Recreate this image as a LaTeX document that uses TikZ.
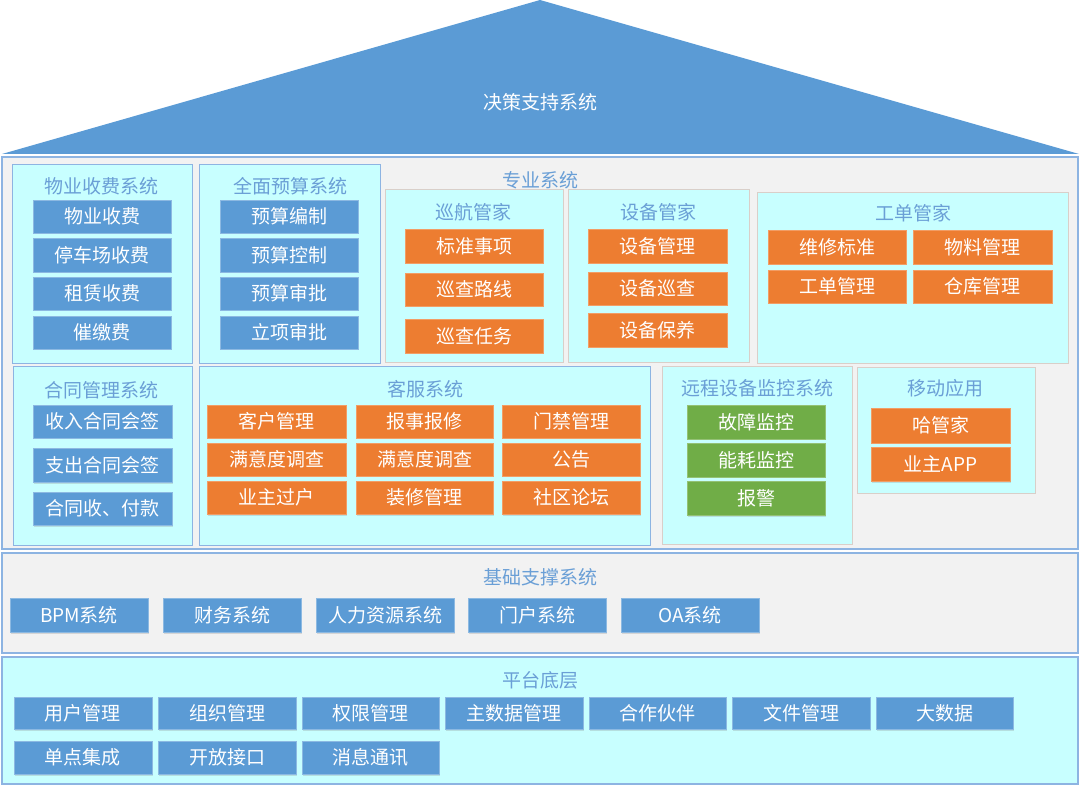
\documentclass[tikz,border=0pt]{standalone}
\usepackage{fontspec}
\setmainfont{Noto Sans CJK SC}
\usetikzlibrary{shadows}
\definecolor{tblue}{HTML}{5B9BD5}
\definecolor{torange}{HTML}{ED7D31}
\definecolor{tgreen}{HTML}{70AD47}
\definecolor{tcyan}{HTML}{C8FFFF}
\definecolor{tgrey}{HTML}{F2F2F2}
\definecolor{tbord}{HTML}{8DB4E2}
\definecolor{tbeige}{HTML}{D9CFC9}
\definecolor{ttitle}{HTML}{6A9FD6}
\newcommand\bx[7]{%
  \pgfmathsetmacro\bxcx{(#3+#5)/2}%
  \pgfmathsetmacro\bxcy{(#4+#6)/2}%
  \pgfmathsetmacro\bxw{#5-#3}%
  \pgfmathsetmacro\bxh{#6-#4}%
  \node[#1, minimum width=\bxw pt, minimum height=\bxh pt] (#2) at (\bxcx,\bxcy) {#7};}
\tikzset{
  base/.style={inner sep=0pt, outer sep=0pt, font=\fontsize{19}{21}\selectfont},
  item/.style={base, text=white, drop shadow={opacity=0.25, shadow xshift=1.2pt, shadow yshift=-1.5pt}},
  bluebox/.style={item, fill=tblue, draw=tblue!70!white, line width=0.6pt},
  orangebox/.style={item, fill=torange, draw=torange!75!white, line width=0.6pt},
  greenbox/.style={item, fill=tgreen, draw=tgreen!75!white, line width=0.6pt},
  panel/.style={base, fill=tcyan, draw=tbord, line width=1pt},
  bpanel/.style={base, fill=tcyan, draw=tbeige, line width=1pt},
  layer/.style={base, draw=tbord, line width=1.6pt},
  ttl/.style={base, text=ttitle},
}
\begin{document}
\begin{tikzpicture}[x=1pt, y=-1pt]
\useasboundingbox (0,0) rectangle (1080,786);
% roof
\fill[tblue] (2,154) -- (540,0) -- (1079,154) -- cycle;
\node[base, text=white] (roof) at (540,102) {决策支持系统};
% main professional area
\bx{layer, fill=tgrey}{main}{2}{157}{1078}{549}{}
\node[ttl] (zy) at (540,180) {专业系统};
% 物业收费系统
\bx{panel}{p1}{12}{165}{192}{364}{}
\node[ttl] (p1t) at (102,186) {物业收费系统};
\bx{bluebox}{a1}{33}{200}{171}{233}{物业收费}
\bx{bluebox}{a2}{33}{238}{171}{272}{停车场收费}
\bx{bluebox}{a3}{33}{277}{171}{310}{租赁收费}
\bx{bluebox}{a4}{33}{316}{171}{349}{催缴费}
% 全面预算系统
\bx{panel}{p2}{199}{165}{380}{364}{}
\node[ttl] (p2t) at (290,186) {全面预算系统};
\bx{bluebox}{b1}{220}{200}{358}{233}{预算编制}
\bx{bluebox}{b2}{220}{238}{358}{272}{预算控制}
\bx{bluebox}{b3}{220}{277}{358}{310}{预算审批}
\bx{bluebox}{b4}{220}{316}{358}{349}{立项审批}
% 巡航管家
\bx{bpanel}{p3}{385}{190}{563}{363}{}
\node[ttl] (p3t) at (473,212) {巡航管家};
\bx{orangebox}{c1}{405}{229}{543}{263}{标准事项}
\bx{orangebox}{c2}{405}{273}{543}{306}{巡查路线}
\bx{orangebox}{c3}{405}{319}{543}{353}{巡查任务}
% 设备管家
\bx{bpanel}{p4}{568}{190}{749}{363}{}
\node[ttl] (p4t) at (658,212) {设备管家};
\bx{orangebox}{d1}{588}{229}{727}{263}{设备管理}
\bx{orangebox}{d2}{588}{272}{727}{305}{设备巡查}
\bx{orangebox}{d3}{588}{313}{727}{347}{设备保养}
% 工单管家
\bx{bpanel}{p5}{757}{193}{1068}{364}{}
\node[ttl] (p5t) at (913,213) {工单管家};
\bx{orangebox}{e1}{768}{230}{906}{264}{维修标准}
\bx{orangebox}{e2}{913}{230}{1052}{264}{物料管理}
\bx{orangebox}{e3}{768}{270}{906}{303}{工单管理}
\bx{orangebox}{e4}{913}{270}{1052}{303}{仓库管理}
% 合同管理系统
\bx{panel}{p6}{13}{367}{192}{545}{}
\node[ttl] (p6t) at (102,390) {合同管理系统};
\bx{bluebox}{f1}{33}{405}{172}{438}{收入合同会签}
\bx{bluebox}{f2}{33}{448}{172}{482}{支出合同会签}
\bx{bluebox}{f3}{33}{492}{172}{525}{合同收、付款}
% 客服系统
\bx{panel}{p7}{199}{367}{650}{545}{}
\node[ttl] (p7t) at (425,389) {客服系统};
\bx{orangebox}{g1}{207}{405}{346}{438}{客户管理}
\bx{orangebox}{g2}{207}{443}{346}{476}{满意度调查}
\bx{orangebox}{g3}{207}{481}{346}{514}{业主过户}
\bx{orangebox}{g4}{356}{405}{493}{438}{报事报修}
\bx{orangebox}{g5}{356}{443}{493}{476}{满意度调查}
\bx{orangebox}{g6}{356}{481}{493}{514}{装修管理}
\bx{orangebox}{g7}{502}{405}{640}{438}{门禁管理}
\bx{orangebox}{g8}{502}{443}{640}{476}{公告}
\bx{orangebox}{g9}{502}{481}{640}{514}{社区论坛}
% 远程设备监控系统
\bx{bpanel}{p8}{662}{367}{852}{544}{}
\node[ttl] (p8t) at (757,388) {远程设备监控系统};
\bx{greenbox}{h1}{687}{405}{825}{439}{故障监控}
\bx{greenbox}{h2}{687}{443}{825}{477}{能耗监控}
\bx{greenbox}{h3}{687}{481}{825}{515}{报警}
% 移动应用
\bx{bpanel}{p9}{857}{368}{1035}{493}{}
\node[ttl] (p9t) at (945,388) {移动应用};
\bx{orangebox}{i1}{871}{408}{1010}{443}{哈管家}
\bx{orangebox}{i2}{871}{447}{1010}{481}{业主APP}
% 基础支撑系统
\bx{layer, fill=tgrey}{jc}{2}{553}{1078}{653}{}
\node[ttl] (jct) at (540,577) {基础支撑系统};
\bx{bluebox}{j1}{10}{598}{148}{632}{BPM系统}
\bx{bluebox}{j2}{163}{598}{301}{632}{财务系统}
\bx{bluebox}{j3}{316}{598}{454}{632}{人力资源系统}
\bx{bluebox}{j4}{468}{598}{606}{632}{门户系统}
\bx{bluebox}{j5}{621}{598}{759}{632}{OA系统}
% 平台底层
\bx{layer, fill=tcyan}{pt}{2}{657}{1078}{784}{}
\node[ttl] (ptt) at (540,680) {平台底层};
\bx{bluebox}{k1}{14}{697}{152}{729}{用户管理}
\bx{bluebox}{k2}{158}{697}{296}{729}{组织管理}
\bx{bluebox}{k3}{302}{697}{439}{729}{权限管理}
\bx{bluebox}{k4}{445}{697}{583}{729}{主数据管理}
\bx{bluebox}{k5}{589}{697}{726}{729}{合作伙伴}
\bx{bluebox}{k6}{732}{697}{870}{729}{文件管理}
\bx{bluebox}{k7}{876}{697}{1013}{729}{大数据}
\bx{bluebox}{k8}{14}{741}{152}{774}{单点集成}
\bx{bluebox}{k9}{158}{741}{296}{774}{开放接口}
\bx{bluebox}{k10}{302}{741}{439}{774}{消息通讯}
\end{tikzpicture}
\end{document}
